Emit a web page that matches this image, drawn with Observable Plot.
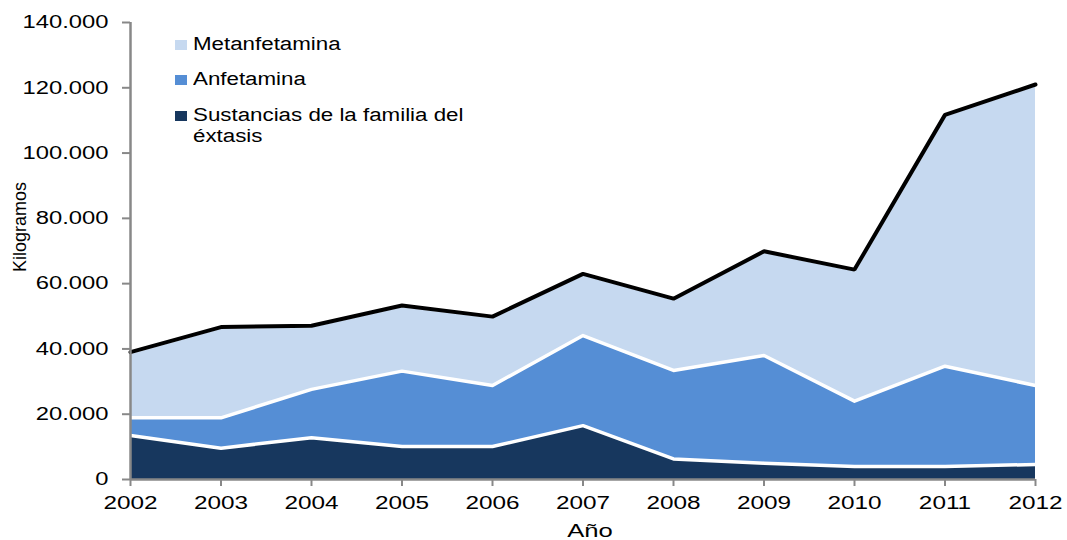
<!DOCTYPE html>
<html>
<head>
<meta charset="utf-8">
<script src="https://cdn.jsdelivr.net/npm/d3@7"></script>
<script src="https://cdn.jsdelivr.net/npm/@observablehq/plot@0.6"></script>
<style>
  body { margin: 0; background: #fff; }
  #wrap { position: relative; width: 1067px; height: 540px; font-family: "Liberation Sans", Arial, sans-serif; }
  .leg { position: absolute; left: 175px; font-size: 18px; color: #000; line-height: 21px; }
  .leg .sw { position: absolute; left: 0; width: 12px; height: 10px; }
  .leg .tx { position: absolute; left: 18px; white-space: nowrap; transform: scaleX(1.24); transform-origin: 0 0; }
</style>
</head>
<body>
<div id="wrap"></div>
<script>
const years = [2002, 2003, 2004, 2005, 2006, 2007, 2008, 2009, 2010, 2011, 2012];
const seriesNames = ["Metanfetamina", "Anfetamina", "Sustancias de la familia del éxtasis"];
const seriesColors = ["#C6D9F0", "#558ED5", "#17375E"];
const extasis = [13500, 9600, 12800, 10100, 10100, 16500, 6300, 5000, 4000, 4000, 4600];
const anfetamina = [5400, 9300, 14800, 23100, 18700, 27600, 27100, 33000, 20000, 30700, 24200];
const metanfetamina = [20100, 27800, 19500, 20100, 21100, 18900, 22000, 31900, 40300, 77000, 92200];
const yTicks = [0, 20000, 40000, 60000, 80000, 100000, 120000, 140000];

const data = [];
years.forEach((yr, i) => {
  data.push({year: yr, series: seriesNames[2], value: extasis[i]});
  data.push({year: yr, series: seriesNames[1], value: anfetamina[i]});
  data.push({year: yr, series: seriesNames[0], value: metanfetamina[i]});
});
const stackOrder = [seriesNames[2], seriesNames[1], seriesNames[0]];
const fmt = d => d === 0 ? "0" : d3.format(",")(d).replace(/,/g, ".");

const chart = Plot.plot({
  width: 1067,
  height: 540,
  marginLeft: 130,
  marginRight: 32,
  marginTop: 22,
  marginBottom: 61,
  style: {fontFamily: "Liberation Sans, Arial, sans-serif", background: "#fff"},
  x: {type: "linear", domain: [2002, 2012]},
  y: {domain: [0, 140000]},
  color: {domain: seriesNames, range: seriesColors},
  marks: [
    Plot.areaY(data, {x: "year", y: "value", z: "series", fill: "series", order: stackOrder}),
    Plot.lineY(data, Plot.stackY2({x: "year", y: "value", z: "series", order: stackOrder, stroke: "#fff", strokeWidth: 3.5})),
    Plot.lineY(data, Plot.groupX({y: "sum"}, {x: "year", y: "value", stroke: "#000", strokeWidth: 4, strokeLinejoin: "miter"})),
    Plot.ruleX([2002], {stroke: "#888", strokeWidth: 2.5}),
    Plot.ruleY([0], {stroke: "#888", strokeWidth: 2.5}),
    Plot.axisY({ticks: yTicks, tickFormat: fmt, tickSize: 8, tickPadding: 14, stroke: "#888", fill: "#000", strokeWidth: 2, fontSize: 18, label: null}),
    Plot.axisX({ticks: years, tickFormat: d => String(d), tickSize: 7, tickPadding: 10, stroke: "#888", fill: "#000", strokeWidth: 2, fontSize: 18, label: null}),
    Plot.text(["Kilogramos"], {frameAnchor: "left", textAnchor: "middle", dx: -110, dy: -24, rotate: -90, fontSize: 18, letterSpacing: 0.3, fill: "#000"}),
    Plot.text(["Año"], {frameAnchor: "bottom", lineAnchor: "bottom", dx: 7, dy: 57, fontSize: 19, fill: "#000"})
  ]
});

const wrap = document.getElementById("wrap");
wrap.appendChild(chart);

// widen labels horizontally to match the reference's stretched glyphs
function stretchEl(t, factor) {
  const len = t.getComputedTextLength();
  t.setAttribute("textLength", (len * factor).toFixed(1));
  t.setAttribute("lengthAdjust", "spacingAndGlyphs");
}
chart.querySelectorAll('g[aria-label="y-axis tick label"] text').forEach(t => stretchEl(t, 1.32));
chart.querySelectorAll('g[aria-label="x-axis tick label"] text').forEach(t => stretchEl(t, 1.35));
chart.querySelectorAll('g[aria-label="text"] text').forEach(t => { if (t.textContent === "Año") stretchEl(t, 1.35); });

const legendItems = [
  {name: seriesNames[0], color: seriesColors[0], top: 36, lines: ["Metanfetamina"]},
  {name: seriesNames[1], color: seriesColors[1], top: 71, lines: ["Anfetamina"]},
  {name: seriesNames[2], color: seriesColors[2], top: 107, lines: ["Sustancias de la familia del", "éxtasis"]}
];
legendItems.forEach(it => {
  const d = document.createElement("div");
  d.className = "leg";
  d.style.top = it.top + "px";
  const sw = document.createElement("div");
  sw.className = "sw";
  sw.style.background = it.color;
  sw.style.top = "4px";
  d.appendChild(sw);
  const tx = document.createElement("div");
  tx.className = "tx";
  tx.style.top = "-2px";
  tx.innerHTML = it.lines.join("<br>");
  d.appendChild(tx);
  wrap.appendChild(d);
});
</script>
</body>
</html>
